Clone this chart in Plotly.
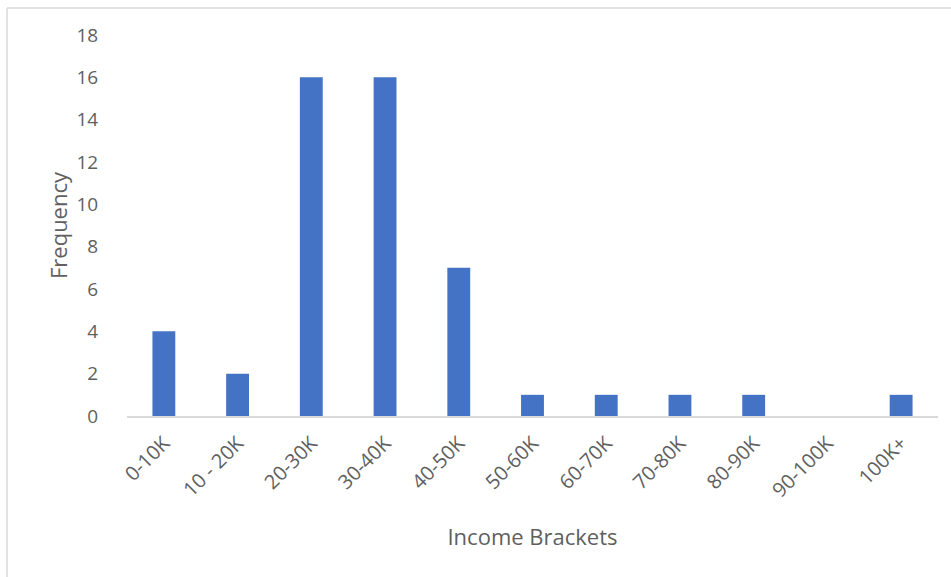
import plotly.graph_objects as go

# Income bracket frequencies
brackets = ["0-10K", "10 - 20K", "20-30K", "30-40K", "40-50K", "50-60K",
            "60-70K", "70-80K", "80-90K", "90-100K", "100K+"]
frequency = [4, 2, 16, 16, 7, 1, 1, 1, 1, 0, 1]
y_ticks = [0, 2, 4, 6, 8, 10, 12, 14, 16, 18]

W, H = 951, 577
M_L, M_R, M_T, M_B = 127, 13, 35, 161
FONT = "Open Sans, Liberation Sans, sans-serif"
TXT = "#5f5f5f"

fig = go.Figure(go.Bar(
    x=brackets, y=frequency,
    marker=dict(color="#4472C4", line=dict(width=0)),
))

plot_w = W - M_L - M_R
plot_h = H - M_T - M_B

# outer chart frame (top and left edges visible)
x0 = (7 - M_L) / plot_w
y0 = (H - 8 - M_B) / plot_h
fig.add_shape(type="line", xref="paper", yref="paper",
              x0=x0, x1=1.2, y0=y0, y1=y0,
              line=dict(color="#D9D9D9", width=1.5))
fig.add_shape(type="line", xref="paper", yref="paper",
              x0=x0, x1=x0, y0=y0, y1=-0.5,
              line=dict(color="#D9D9D9", width=1.5))

fig.update_layout(
    width=W, height=H,
    margin=dict(l=M_L, r=M_R, t=M_T, b=M_B),
    paper_bgcolor="white", plot_bgcolor="white",
    bargap=0.69,
    showlegend=False,
    font=dict(family=FONT, size=19, color=TXT),
    xaxis=dict(
        tickangle=-45,
        showline=True, linecolor="#D9D9D9", linewidth=1.5,
        showgrid=False, zeroline=False,
        ticks="outside", ticklen=6, tickcolor="rgba(0,0,0,0)",
        tickfont=dict(size=20, color=TXT),
        title=dict(text="Income Brackets", font=dict(size=22, color=TXT), standoff=28),
    ),
    yaxis=dict(
        range=[0, 18], tickvals=y_ticks,
        showgrid=False, zeroline=False, showline=False,
        ticks="outside", ticklen=24, tickcolor="rgba(0,0,0,0)",
        tickfont=dict(size=19, color=TXT),
        title=dict(text="Frequency", font=dict(size=22, color=TXT), standoff=2),
    ),
)

fig.write_html("out.html")
